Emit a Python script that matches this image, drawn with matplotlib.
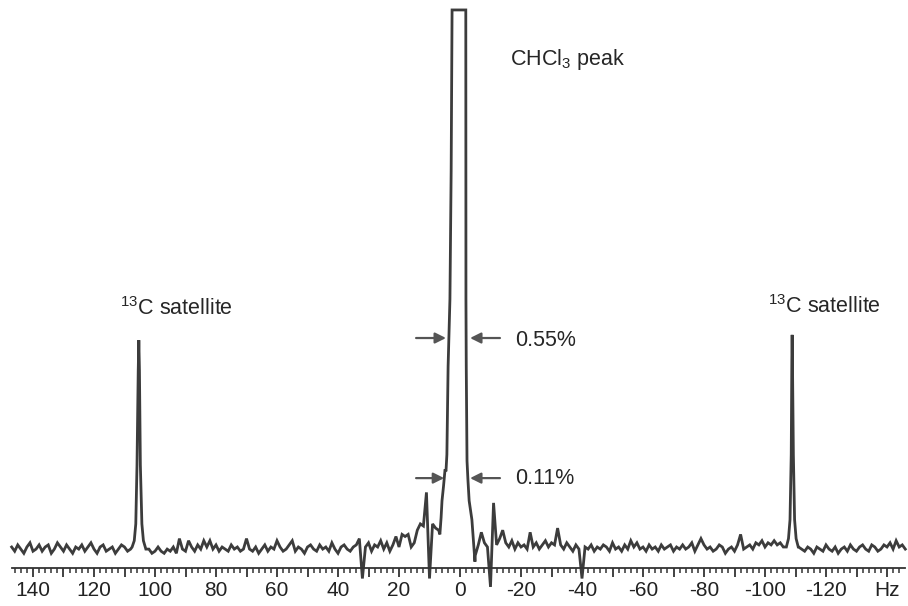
import numpy as np
import matplotlib
matplotlib.use("Agg")
import matplotlib.pyplot as plt

plt.rcParams['font.family'] = ['Liberation Sans', 'DejaVu Sans']
plt.rcParams['mathtext.fontset'] = 'custom'
plt.rcParams['mathtext.rm'] = 'Liberation Sans'
plt.rcParams['mathtext.it'] = 'Liberation Sans:italic'
plt.rcParams['mathtext.bf'] = 'Liberation Sans:bold'

# ---------------- data (intensity: satellite height ~ 100) ----------------
# baseline noise, one value per Hz from 147 Hz down to -146 Hz
noise_start_hz = 147
noise_step_hz = -1
baseline_noise = [
    1, -1, 2, 0, -2, 1, 3, -1, 0, 2,          # 147..138
    -1, 1, 2, -2, 0, 3, 1, -1, 2, 0,          # 137..128
    -2, 1, 0, 2, -1, 1, 3, 0, -2, 1,          # 127..118
    2, -1, 0, 1, -2, 0, 2, 1, -1, 0,          # 117..108
    1, 0, -1, 0, 1, 0, -2, -1, 1, -1,         # 107..98
    -2, 0, -1, 1, -2, 5, 0, -1, 4, 1,         # 97..88
    -1, 2, 0, 4, 1, 4, 0, 2, -1, 1,           # 87..78
    0, -1, 2, 0, 1, -1, 0, 5, 0, -1,          # 77..68
    1, -2, 0, 2, -1, 1, 0, 4, 1, -1,          # 67..58
    0, 2, 4, -1, 1, 0, -2, 1, 2, 0,           # 57..48
    -1, 2, 0, 1, -1, 3, 0, -2, 1, 2,          # 47..38
    0, -1, 1, 2, 5, -14, 1, 3, -1, 2,         # 37..28
    1, 4, 0, 3, -1, 2, 6, 1, 7, 6,            # 27..18
    7, 1, 3, 9, 12, 11, 27, -14, 12, 10,      # 17..8
    9, 8, 8, 8, 8, 8, 8, 8, 8, 8,             # 7..-2
    8, 8, -3, 2, 8, 3, 1, -18, 22, 2,         # -3..-12
    5, 9, 3, 1, 4, 0, 3, 1, 2, 0,             # -13..-22
    8, 1, 3, 0, 2, 4, 1, 3, 2, 10,            # -23..-32
    2, 0, 3, 1, -1, 2, 0, -14, 1, 0,          # -33..-42
    2, -1, 1, 0, 2, 1, -1, 3, 0, 1,           # -43..-52
    -1, 2, 0, 4, 1, 3, 0, 1, -1, 2,           # -53..-62
    0, 1, -1, 2, 0, 1, 2, -1, 1, 0,           # -63..-72
    2, 0, 1, 3, -1, 2, 5, 2, 0, 1,            # -73..-82
    -1, 0, 2, 1, -2, 0, 1, -1, 2, 7,          # -83..-92
    0, 1, 2, 0, 3, 2, 4, 1, 3, 2,             # -93..-102
    4, 2, 3, 1, 2, 1, 1, 1, 1, 0,             # -103..-112
    -1, 1, 0, -2, 1, 0, -1, 2, 0, -1,         # -113..-122
    1, -2, 0, 1, -1, 2, 0, -1, 1, 2,          # -123..-132
    0, -1, 2, 1, -1, 0, 2, 1, 3, 0,           # -133..-142
    4, 1, 2, 0,                               # -143..-146
]

# CHCl3 main peak (truncated at the top of the plot)
main_peak_hz = [6.6, 6.2, 5.9, 5.4, 4.9, 4.6, 4.3, 3.9, 3.3, 2.9, 2.6,
                -1.9, -1.95, -2.05, -2.3, -2.6, -3.0, -3.9, -4.3, -4.9]
main_peak_val = [7, 15, 23, 30, 38, 37, 45, 87, 119, 180, 256.7,
                 256.7, 119, 87, 42, 33, 23, 14, 6, -6]

# 13C satellites
sat_left_hz = [107.5, 106.8, 106.3, 105.9, 105.5, 105.3, 105.1, 104.8, 104.3, 103.8, 103.0]
sat_left_val = [1, 4, 12, 40, 85, 99.5, 85, 40, 12, 4, 0]
sat_right_hz = [-107.0, -107.7, -108.2, -108.6, -108.8, -108.9, -109.0, -109.3, -109.7, -110.2, -110.9]
sat_right_val = [1, 5, 14, 45, 90, 102, 90, 45, 14, 5, 1]

tick_values = [140, 120, 100, 80, 60, 40, 20, 0, -20, -40, -60, -80, -100, -120, -140]
tick_labels = ['140', '120', '100', '80', '60', '40', '20', '0', '-20', '-40',
               '-60', '-80', '-100', '-120', 'Hz']

# ---------------- assemble spectrum ----------------
noise_hz = noise_start_hz + noise_step_hz * np.arange(len(baseline_noise))
noise_val = np.array(baseline_noise, dtype=float)
peaks = [(sat_left_hz, sat_left_val), (main_peak_hz, main_peak_val),
         (sat_right_hz, sat_right_val)]
keep = np.ones(len(noise_hz), dtype=bool)
for h, v in peaks:
    keep &= ~((noise_hz <= max(h)) & (noise_hz >= min(h)))
all_hz = np.concatenate([noise_hz[keep]] + [np.asarray(h, float) for h, v in peaks])
all_val = np.concatenate([noise_val[keep]] + [np.asarray(v, float) for h, v in peaks])
order = np.argsort(-all_hz, kind='stable')
all_hz = all_hz[order]
all_val = all_val[order]

# ---------------- figure ----------------
fig = plt.figure(figsize=(9.08, 6.06), dpi=100)
ax = fig.add_axes([0.01283, 0.0627, 0.9842, 0.924])
ax.plot(all_hz, all_val, color='#3c3c3c', lw=2.0, clip_on=False,
        solid_joinstyle='miter')
ax.set_xlim(147, -146)
ax.set_ylim(-9.0, 257.6)

for s in ['top', 'left', 'right']:
    ax.spines[s].set_visible(False)
ax.spines['bottom'].set_color('#333333')
ax.spines['bottom'].set_linewidth(1.3)
ax.set_yticks([])

major = np.arange(140, -141, -10)
ax.set_xticks(major)
ax.set_xticklabels([tick_labels[tick_values.index(m)] if m in tick_values else ''
                    for m in major])
ax.set_xticks(np.arange(146, -146, -2), minor=True)
ax.tick_params(axis='x', which='major', direction='out', length=6.5, width=1.3,
               color='#333333', pad=3, labelsize=15, labelcolor='#222222')
ax.tick_params(axis='x', which='minor', direction='out', length=3.5, width=1.1,
               color='#333333')

txt = dict(color='#262626', fontsize=15.5)
ax.text(-16.4, 230.5, 'CHCl$_3$ peak', ha='left', va='baseline', **txt)
ax.text(111.5, 111.4, '$^{13}$C satellite', ha='left', va='baseline', **txt)
ax.text(-101.0, 112.4, '$^{13}$C satellite', ha='left', va='baseline', **txt)
ax.text(-18.0, 96.7, '0.55%', ha='left', va='baseline', **txt)
ax.text(-18.0, 31.0, '0.11%', ha='left', va='baseline', **txt)

arrow = dict(arrowstyle='-|>', color='#555555', lw=1.6, mutation_scale=16,
             shrinkA=0, shrinkB=0)
for y, xl, xr in [(100.5, 4.6, -3.3), (33.8, 5.2, -3.3)]:
    ax.annotate('', xy=(xl, y), xytext=(14.4, y), arrowprops=arrow)
    ax.annotate('', xy=(xr, y), xytext=(-13.1, y), arrowprops=arrow)

fig.savefig('out.png', dpi=100, facecolor='white')
